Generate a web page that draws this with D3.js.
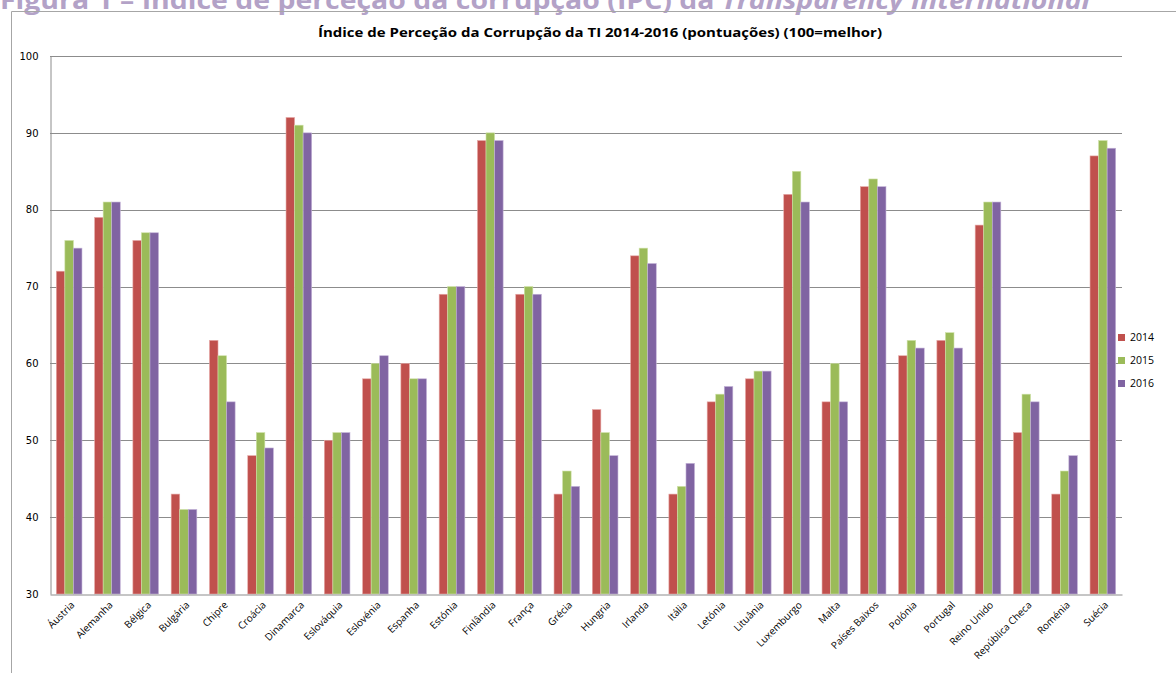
<!DOCTYPE html>
<html><head><meta charset="utf-8">
<script src="https://cdn.jsdelivr.net/npm/d3@7"></script>
<style>body{margin:0;background:#fff;overflow:hidden}svg{display:block}</style>
</head><body>
<svg id="c" width="1176" height="673"></svg>
<script>
const categories = ["Áustria","Alemanha","Bélgica","Bulgária","Chipre","Croácia","Dinamarca","Eslováquia","Eslovénia","Espanha","Estónia","Finlândia","França","Grécia","Hungria","Irlanda","Itália","Letónia","Lituânia","Luxemburgo","Malta","Países Baixos","Polónia","Portugal","Reino Unido","República Checa","Roménia","Suécia"];
const years = ["2014","2015","2016"];
const v2014 = [72,79,76,43,63,48,92,50,58,60,69,89,69,43,54,74,43,55,58,82,55,83,61,63,78,51,43,87];
const v2015 = [76,81,77,41,61,51,91,51,60,58,70,90,70,46,51,75,44,56,59,85,60,84,63,64,81,56,46,89];
const v2016 = [75,81,77,41,55,49,90,51,61,58,70,89,69,44,48,73,47,57,59,81,55,83,62,62,81,55,48,88];
const yTicks = [30,40,50,60,70,80,90,100];
const colors = ["#C0504D","#9BBB59","#8064A2"];
const strokes = ["#e6a9a7","#cfe2a8","#c3b3d8"];
const series = [v2014, v2015, v2016];

const svg = d3.select("#c");
// page heading (clipped at top, as in the source page)
const h = svg.append("text").attr("x", 0).attr("y", 9)
  .attr("font-family", "Open Sans, sans-serif").attr("font-weight", "bold").attr("font-size", 25)
  .attr("fill", "#b3a2c7").attr("textLength", 1090).attr("lengthAdjust", "spacingAndGlyphs");
h.append("tspan").text("Figura 1 – Índice de perceção da corrupção (IPC) da ");
h.append("tspan").attr("font-style", "italic").text("Transparency International");

// chart frame
svg.append("path").attr("d", "M11.5,673 V11.5 H1176").attr("fill", "none").attr("stroke", "#a6a6a6").attr("stroke-width", 1);

svg.append("text").attr("x", 600).attr("y", 37).attr("text-anchor", "middle")
  .attr("font-family", "Open Sans, sans-serif").attr("font-weight", "bold").attr("font-size", 13)
  .attr("fill", "#000").attr("textLength", 564).attr("lengthAdjust", "spacingAndGlyphs")
  .text("Índice de Perceção da Corrupção da TI 2014-2016 (pontuações) (100=melhor)");

const L = 50, R = 1122, T = 56, B = 594;
const x = d3.scaleBand().domain(categories).range([L, R]).paddingInner(0.33).paddingOuter(0.165);
const xs = d3.scaleBand().domain(years).range([0, x.bandwidth()]);
const y = d3.scaleLinear().domain([30, 100]).range([B, T]);

// gridlines
svg.append("g").selectAll("line").data(yTicks.filter(d => d > 30)).join("line")
  .attr("x1", L).attr("x2", R).attr("y1", d => Math.round(y(d)) + 0.5).attr("y2", d => Math.round(y(d)) + 0.5)
  .attr("stroke", "#8c8c8c").attr("stroke-width", 1);

// bars
years.forEach((yr, i) => {
  svg.append("g").selectAll("rect").data(categories).join("rect")
    .attr("x", c => x(c) + xs(yr))
    .attr("y", (c, j) => y(series[i][j]))
    .attr("width", xs.bandwidth())
    .attr("height", (c, j) => B - y(series[i][j]))
    .attr("fill", colors[i])
    .attr("stroke", strokes[i]).attr("stroke-width", 0.6);
});

// y axis
const ya = d3.axisLeft(y).tickValues(yTicks).tickSize(0).tickPadding(12);
const yg = svg.append("g").attr("transform", `translate(${L + 0.5},0)`).call(ya);
yg.select(".domain").attr("stroke", "#8c8c8c");
yg.selectAll("text").attr("font-family", "DejaVu Sans, Verdana, sans-serif").attr("font-size", 10).attr("fill", "#000");

// x axis
const xa = d3.axisBottom(x).tickSize(0).tickSizeOuter(0);
const xg = svg.append("g").attr("transform", `translate(0,${B + 0.5})`).call(xa);
xg.select(".domain").attr("stroke", "#8c8c8c");
xg.selectAll("text").attr("font-family", "Open Sans, sans-serif").attr("font-size", 10).attr("fill", "#000")
  .attr("text-anchor", "end").attr("dy", 0)
  .attr("transform", "translate(4,9) rotate(-45)");

// legend
const lg = svg.append("g");
years.forEach((yr, i) => {
  lg.append("rect").attr("x", 1118).attr("y", 334 + i * 23).attr("width", 7).attr("height", 7).attr("fill", colors[i]);
  lg.append("text").attr("x", 1130).attr("y", 341 + i * 23).attr("font-family", "Open Sans, sans-serif")
    .attr("font-size", 10.5).attr("fill", "#000").text(yr);
});
</script>
</body></html>
